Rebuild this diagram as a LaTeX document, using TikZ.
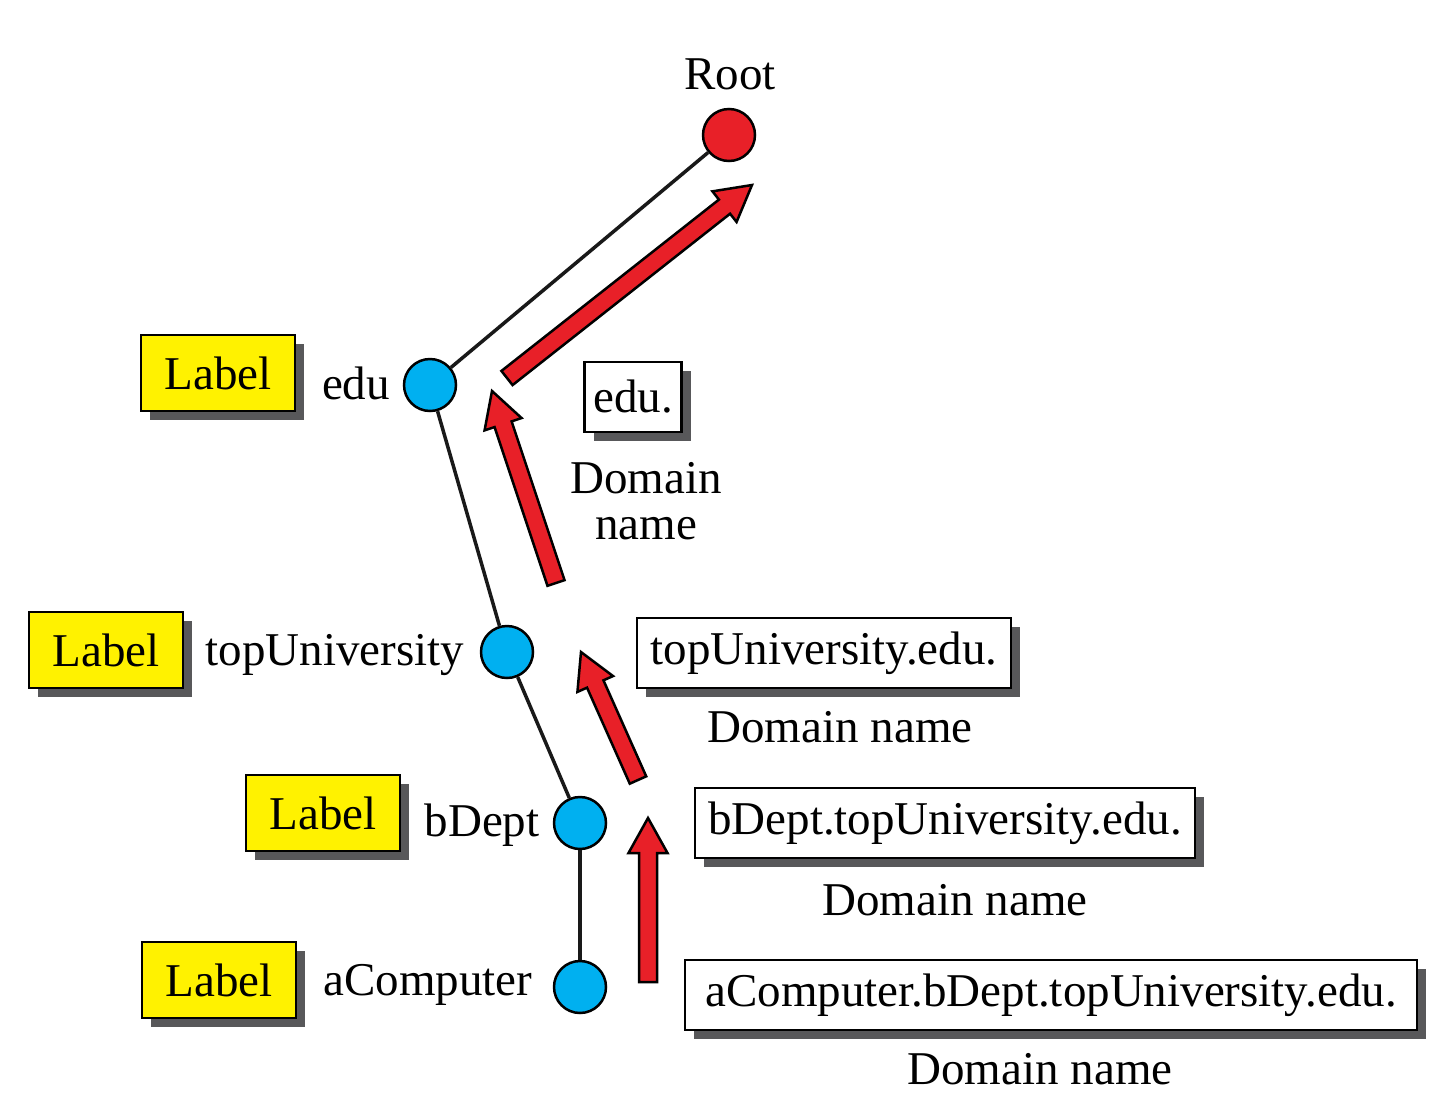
\documentclass[tikz,border=0pt]{standalone}
\usepackage{fontspec}
\setmainfont{Liberation Serif}
\usetikzlibrary{calc,shadows}
\definecolor{rootred}{RGB}{232,32,40}
\definecolor{nodecyan}{RGB}{0,176,240}
\definecolor{lblyellow}{RGB}{255,242,0}
\definecolor{shadowgray}{RGB}{88,88,90}
\tikzset{
  txt/.style={font=\fontsize{47}{46}\selectfont, inner sep=0pt},
  vertex/.style={circle, draw=black, line width=2.5pt, minimum size=52pt, inner sep=0pt},
  lblbox/.style={txt, draw=black, line width=2.5pt, fill=lblyellow, minimum width=154pt, minimum height=76pt,
    drop shadow={shadow xshift=9pt, shadow yshift=-9pt, fill=shadowgray, opacity=1}},
  dombox/.style={txt, draw=black, line width=2.5pt, fill=white, minimum height=70pt,
    drop shadow={shadow xshift=9pt, shadow yshift=-9pt, fill=shadowgray, opacity=1}},
  edgeline/.style={line width=3.5pt, draw=black!90},
  redarrowstyle/.style={draw=black, line width=2.5pt, fill=rootred, line join=miter},
}
\newcommand\redarrow[2]{%
  \coordinate (h) at ($(#2)!35pt!(#1)$);
  \draw[redarrowstyle] ($(#1)!9pt!90:(#2)$) -- ($(h)!9pt!90:(#2)$) -- ($(h)!19.5pt!90:(#2)$) -- (#2)
    -- ($(h)!19.5pt!-90:(#2)$) -- ($(h)!9pt!-90:(#2)$) -- ($(#1)!9pt!-90:(#2)$) -- cycle;}
\begin{document}
\begin{tikzpicture}[x=1pt,y=-1pt]
\useasboundingbox (0,0) rectangle (1434,1106);
% tree nodes
\node[vertex, fill=rootred] (root) at (729,135) {};
\node[vertex, fill=nodecyan] (edu) at (430,385) {};
\node[vertex, fill=nodecyan] (top) at (507,652) {};
\node[vertex, fill=nodecyan] (bdept) at (580,823) {};
\node[vertex, fill=nodecyan] (acomp) at (580,987) {};
\draw[edgeline] (edu) -- (root);
\draw[edgeline] (edu) -- (top);
\draw[edgeline] (top) -- (bdept);
\draw[edgeline] (bdept) -- (acomp);
\node[txt] (roottxt) at (730,74) {Root};
% labels
\node[lblbox] (l1) at (218,373) {Label};
\node[lblbox] (l2) at (106,650) {Label};
\node[lblbox] (l3) at (323,813) {Label};
\node[lblbox] (l4) at (219,980) {Label};
\node[txt] (n1) at (356,383) {edu};
\node[txt] (n2) at (335,655) {topUniversity};
\node[txt] (n3) at (482,825) {bDept};
\node[txt] (n4) at (428,985) {aComputer};
% domain boxes
\node[dombox, minimum width=97pt] (d1) at (633,397) {edu.};
\node[dombox, minimum width=374pt] (d2) at (824,653) {topUniversity.edu.};
\node[dombox, minimum width=500pt] (d3) at (945,823) {bDept.topUniversity.edu.};
\node[dombox, minimum width=732pt] (d4) at (1051,995) {aComputer.bDept.topUniversity.edu.};
\node[txt, align=center] (dn1) at (646,501) {Domain\\name};
\node[txt] (dn2) at (840,727) {Domain name};
\node[txt] (dn3) at (955,900) {Domain name};
\node[txt] (dn4) at (1040,1069) {Domain name};
% red arrows
\coordinate (a1s) at (507,378); \coordinate (a1e) at (752,185);
\coordinate (a2s) at (556,583); \coordinate (a2e) at (492,391);
\coordinate (a3s) at (638,780); \coordinate (a3e) at (581,652);
\coordinate (a4s) at (648,982); \coordinate (a4e) at (648,818);
\redarrow{a1s}{a1e}
\redarrow{a2s}{a2e}
\redarrow{a3s}{a3e}
\redarrow{a4s}{a4e}
\end{tikzpicture}
\end{document}
